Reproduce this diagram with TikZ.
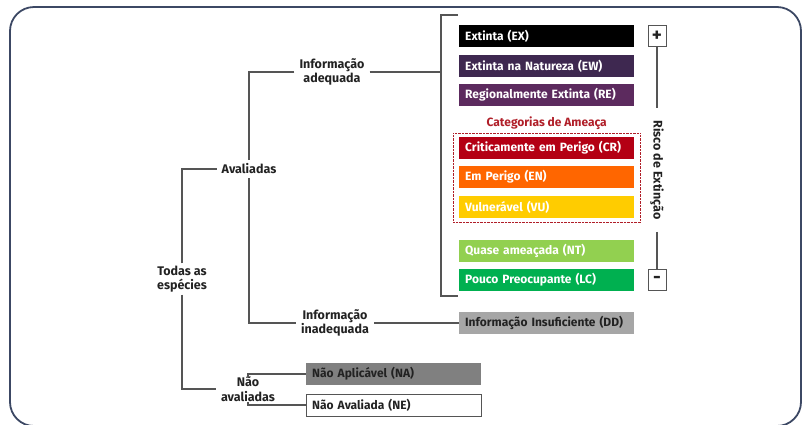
\documentclass[tikz,border=0pt]{standalone}
\usepackage{fontspec}
\setmainfont{Fira Sans}
\usetikzlibrary{positioning,calc,fit}
\definecolor{frame}{RGB}{60,72,100}
\definecolor{wire}{RGB}{85,85,85}
\definecolor{ink}{RGB}{34,34,34}
\definecolor{ewpurple}{RGB}{62,40,80}
\definecolor{repurple}{RGB}{92,42,94}
\definecolor{crred}{RGB}{180,0,20}
\definecolor{enorange}{RGB}{255,102,0}
\definecolor{vuyellow}{RGB}{255,204,0}
\definecolor{ntgreen}{RGB}{146,208,80}
\definecolor{lcgreen}{RGB}{0,176,80}
\definecolor{ddgray}{RGB}{166,166,166}
\definecolor{nagray}{RGB}{128,128,128}
\definecolor{threat}{RGB}{176,30,40}

\begin{document}
\begin{tikzpicture}[x=1pt,y=-1pt,
    cat/.style={anchor=west,minimum height=22pt,text width=163pt,inner xsep=6pt,inner ysep=0pt,
      align=left,font=\bfseries\fontsize{12}{13}\selectfont,text=white},
    lbl/.style={align=center,inner xsep=5pt,inner ysep=4pt,font=\bfseries\fontsize{12.5}{14.5}\selectfont,text=ink},
    link/.style={draw=wire,line width=1.1pt},
    sign/.style={draw=wire,fill=white,minimum width=18pt,minimum height=21pt,inner sep=0pt,
      font=\bfseries\fontsize{19}{19}\selectfont,text=ink}]
  \useasboundingbox (0,0) rectangle (806,424);
  \clip (0,0) rectangle (806,424);
  \draw[frame,line width=1.8pt,rounded corners=24pt] (10,7) rectangle (801,426);

  % categories
  \node[cat,fill=black]    (ex) at (459,36)  {Extinta (EX)};
  \node[cat,fill=ewpurple] (ew) at (459,66)  {Extinta na Natureza (EW)};
  \node[cat,fill=repurple] (re) at (459,95)  {Regionalmente Extinta (RE)};
  \node[cat,fill=crred]    (cr) at (459,148) {Criticamente em Perigo (CR)};
  \node[cat,fill=enorange] (en) at (459,177) {Em Perigo (EN)};
  \node[cat,fill=vuyellow] (vu) at (459,207) {Vulnerável (VU)};
  \node[cat,fill=ntgreen]  (nt) at (459,251) {Quase ameaçada (NT)};
  \node[cat,fill=lcgreen]  (lc) at (459,280) {Pouco Preocupante (LC)};
  \node[cat,fill=ddgray,text=ink] (dd) at (459,323) {Informação Insuficiente (DD)};
  \node[cat,fill=nagray,text=ink] (na) at (306,374) {Não Aplicável (NA)};
  \node[cat,draw=wire,fill=white,text=ink] (ne) at (306,405) {Não Avaliada (NE)};

  \node[draw=threat,densely dotted,thin,fit=(cr)(vu),inner xsep=6pt,inner ysep=4pt] (ameaca) {};
  \node[above=-1pt of ameaca,text=threat,font=\bfseries\fontsize{12}{13}\selectfont] (ameacatit) {Categorias de Ameaça};

  % tree labels
  \node[lbl] (iad)   at (332,72)  {Informação\\adequada};
  \node[lbl] (aval)  at (249,169) {Avaliadas};
  \node[lbl] (iin)   at (335,323) {Informação\\inadequada};
  \node[lbl,inner ysep=2pt] (todas) at (182,279) {Todas as\\espécies};
  \node[lbl,inner ysep=0pt] (nav) at (248,389) {Não\\avaliadas};

  \coordinate (bt) at (441,15);
  \coordinate (bb) at (441,296);
  \coordinate (btr) at (458,15);
  \coordinate (bbr) at (458,296);

  \draw[link] (btr) -- (bt) -- (bb) -- (bbr);
  \draw[link] (iad.east) -- (iad.east -| bt);
  \draw[link] (iad.west) -| (aval.north);
  \draw[link] (aval.south) |- (iin.west);
  \draw[link] (iin.east) -- (dd.west);
  \draw[link] (todas.north) |- (aval.west);
  \draw[link] (todas.south) |- (nav.west);
  \draw[link] (nav.north) |- (na.west);
  \draw[link] (nav.south) |- (ne.west);

  % risk scale
  \node[sign] (plus)  at (657,36)  {+};
  \node[sign] (minus) at (657,280) {-};
  \node[rotate=-90,inner xsep=12pt,font=\bfseries\fontsize{12.5}{13}\selectfont,text=ink] (risco) at (657,170) {Risco de Extinção};
  \draw[link] (plus.south) -- (risco.west);
  \draw[link] (risco.east) -- (minus.north);
\end{tikzpicture}
\end{document}
